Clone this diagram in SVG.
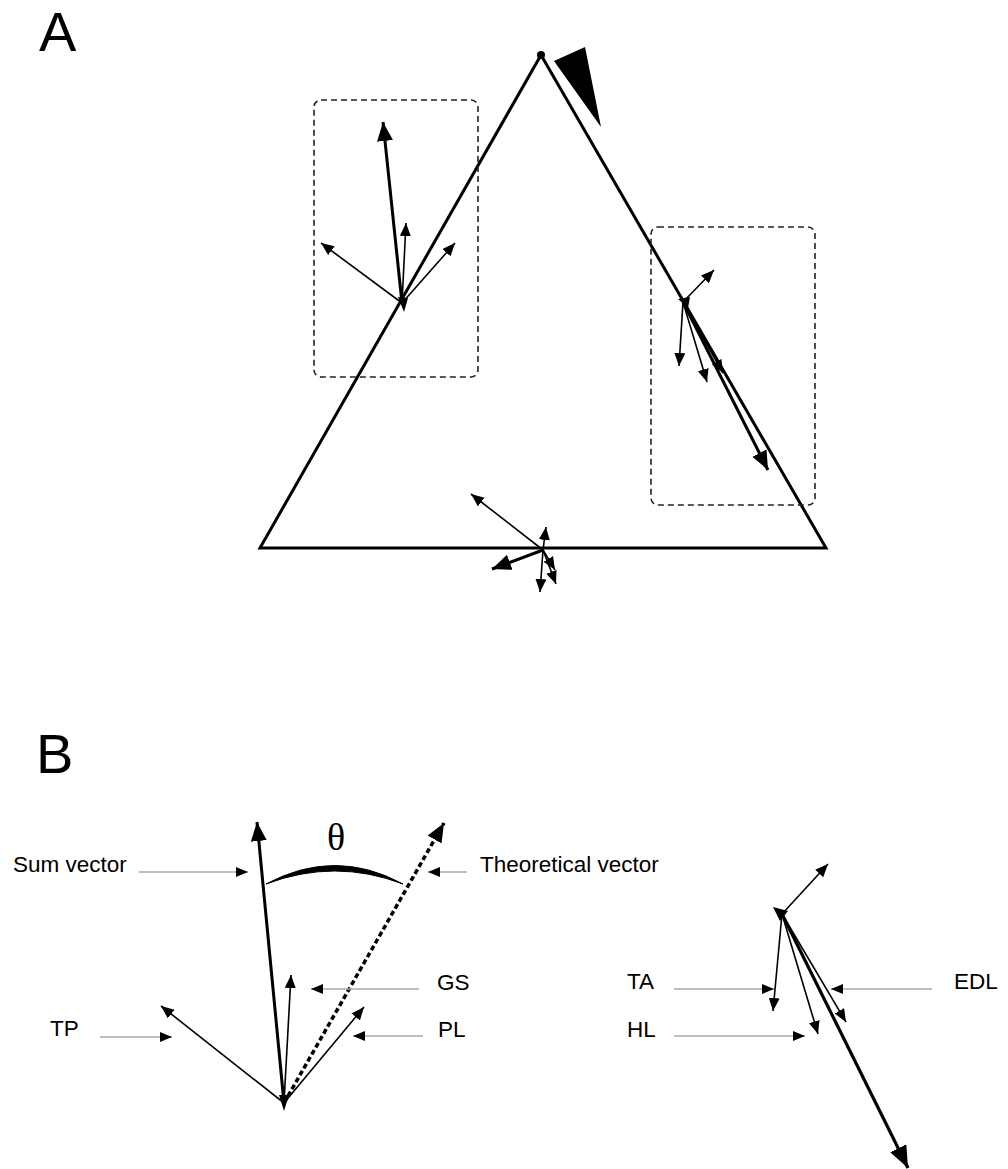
<svg xmlns="http://www.w3.org/2000/svg" width="1008" height="1169" viewBox="0 0 1008 1169">
<style>
.lbl{font-family:"Liberation Sans",Arial,sans-serif;font-size:22.5px;fill:#000}
.pan{font-family:"Liberation Sans",Arial,sans-serif;font-size:56px;fill:#000}
.thin{stroke:#000;stroke-width:1.6;fill:none;marker-end:url(#hThin)}
.thick{stroke:#000;stroke-width:3;fill:none;marker-end:url(#hThick)}
.ptr{stroke:#a8a8a8;stroke-width:1.5;fill:none;marker-end:url(#hPtr)}
.box{fill:none;stroke:#222;stroke-width:1.6;stroke-dasharray:6 4}
.edge{fill:none;stroke:#000;stroke-width:3;stroke-linejoin:miter}
</style>
<defs>
<marker id="hThin" markerUnits="userSpaceOnUse" markerWidth="14" markerHeight="12" refX="13" refY="5.5" orient="auto"><path d="M0,0 L13,5.5 L0,11 z" fill="#000"/></marker>
<marker id="hThick" markerUnits="userSpaceOnUse" markerWidth="20" markerHeight="17" refX="19" refY="8" orient="auto"><path d="M0,0 L19,8 L0,16 z" fill="#000"/></marker>
<marker id="hBig" markerUnits="userSpaceOnUse" markerWidth="24" markerHeight="19" refX="22" refY="9" orient="auto"><path d="M0,0 L22,9 L0,18 z" fill="#000"/></marker>
<marker id="hPtr" markerUnits="userSpaceOnUse" markerWidth="13" markerHeight="11" refX="12" refY="5" orient="auto"><path d="M0,0 L12,5 L0,10 z" fill="#000"/></marker>
</defs>
<rect width="1008" height="1169" fill="#fff"/>

<g id="panelA">
  <text class="pan" x="39" y="51">A</text>
  <g id="triangle">
    <polygon class="edge" points="541,55 826,548 260,548"/>
    <circle cx="541" cy="55" r="4" fill="#000"/>
    <polygon points="554,61 585,47 601,127" fill="#000"/>
  </g>
  <g id="boxLeft">
    <rect class="box" x="314" y="100" width="164" height="277" rx="7"/>
    <line class="thick" x1="402" y1="303" x2="383" y2="122"/>
    <line class="thin" x1="402" y1="303" x2="406" y2="223"/>
    <line class="thin" x1="402" y1="303" x2="321" y2="243"/>
    <line class="thin" x1="402" y1="303" x2="455" y2="243" stroke-width="1.3"/>
    <polygon points="398,297 408,298 404,312" fill="#000"/>
  </g>
  <g id="boxRight">
    <rect class="box" x="651" y="227" width="164" height="278" rx="7"/>
    <line class="thin" x1="683" y1="302" x2="714" y2="270"/>
    <line class="thin" x1="683" y1="302" x2="679" y2="366"/>
    <line class="thin" x1="683" y1="302" x2="707" y2="382"/>
    <line class="thin" x1="683" y1="302" x2="723" y2="373" stroke-width="2"/>
    <line class="thick" x1="683" y1="302" x2="768" y2="470"/>
    <polygon points="678,299 690,297 688,308" fill="#000"/>
  </g>
  <g id="bottomCluster">
    <line class="thin" x1="543" y1="550" x2="471" y2="494"/>
    <line class="thin" x1="543" y1="550" x2="546" y2="527"/>
    <line class="thick" x1="543" y1="550" x2="492" y2="569"/>
    <line class="thin" x1="543" y1="550" x2="540" y2="592"/>
    <line class="thin" x1="543" y1="550" x2="556" y2="584"/>
    <line class="thin" x1="543" y1="550" x2="555" y2="570"/>
  </g>
</g>

<g id="panelB">
  <text class="pan" x="36" y="773">B</text>
  <g id="angle">
    <path d="M266,884 Q335,847 403,884 Q335,858 266,884 z" fill="#000" stroke="#000" stroke-width="1"/>
    <text x="336" y="850" text-anchor="middle" style="font-family:'Liberation Serif','Times New Roman',serif;font-size:38px">θ</text>
  </g>
  <g id="leftCluster">
    <line class="thick" x1="284" y1="1103" x2="257" y2="822"/>
    <line x1="284" y1="1103" x2="444" y2="823" stroke="#000" stroke-width="3.5" stroke-dasharray="5 3" marker-end="url(#hThick)"/>
    <line class="thin" x1="284" y1="1103" x2="291" y2="975"/>
    <line class="thin" x1="284" y1="1103" x2="161" y2="1006"/>
    <line class="thin" x1="284" y1="1103" x2="364" y2="1007"/>
    <polygon points="279,1095 289,1095 284,1111" fill="#000"/>
  </g>
  <g id="rightCluster">
    <line class="thin" x1="782" y1="914" x2="828" y2="864"/>
    <line class="thin" x1="782" y1="914" x2="773" y2="1011"/>
    <line class="thin" x1="782" y1="914" x2="818" y2="1034"/>
    <line class="thin" x1="782" y1="914" x2="846" y2="1022"/>
    <line x1="782" y1="914" x2="908" y2="1168" stroke="#000" stroke-width="3.2" marker-end="url(#hBig)"/>
    <polygon points="773,907 788,911 780,921" fill="#000"/>
  </g>
  <g id="labels">
    <text class="lbl" x="13" y="872">Sum vector</text>
    <text class="lbl" x="480" y="872">Theoretical vector</text>
    <text class="lbl" x="437" y="990">GS</text>
    <text class="lbl" x="438" y="1037">PL</text>
    <text class="lbl" x="50" y="1036">TP</text>
    <text class="lbl" x="627" y="989">TA</text>
    <text class="lbl" x="627" y="1037">HL</text>
    <text class="lbl" x="954" y="989">EDL</text>
  </g>
</g>

<g id="connectors">
  <line class="ptr" x1="139" y1="872" x2="248" y2="872"/>
  <line class="ptr" x1="467" y1="872" x2="428" y2="872"/>
  <line class="ptr" x1="419" y1="989" x2="311" y2="989"/>
  <line class="ptr" x1="423" y1="1036" x2="353" y2="1036"/>
  <line class="ptr" x1="100" y1="1037" x2="172" y2="1037"/>
  <line class="ptr" x1="674" y1="989" x2="774" y2="989"/>
  <line class="ptr" x1="674" y1="1036" x2="805" y2="1036"/>
  <line class="ptr" x1="932" y1="989" x2="831" y2="989"/>
</g>
</svg>
